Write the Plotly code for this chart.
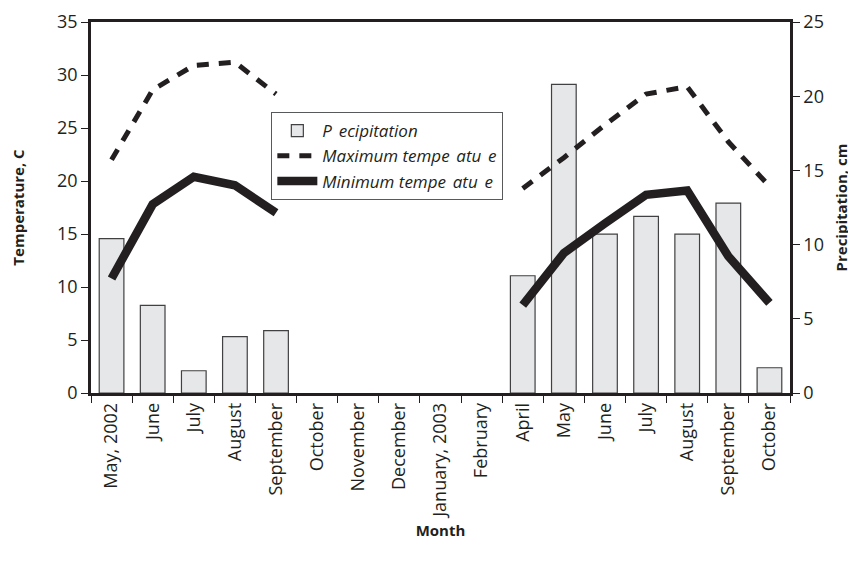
import plotly.graph_objects as go

months = ["May, 2002", "June", "July", "August", "September", "October",
          "November", "December", "January, 2003", "February", "April",
          "May", "June", "July", "August", "September", "October"]
precipitation = [10.4, 5.9, 1.5, 3.8, 4.2, None, None, None, None, None,
                 7.9, 20.8, 10.7, 11.9, 10.7, 12.8, 1.7]
max_temp = [22.0, 28.6, 30.9, 31.2, 28.2, None, None, None, None, None,
            19.3, 22.2, 25.3, 28.2, 28.9, 23.7, 19.5]
min_temp = [10.8, 17.8, 20.4, 19.6, 17.0, None, None, None, None, None,
            8.3, 13.2, 16.0, 18.7, 19.1, 12.9, 8.5]

# legend labels: the reference renders the letter "r" as a blank gap
R = "<span style='color:white'>r</span>"
series_names = ["P" + R + "ecipitation",
                "Maximum tempe" + R + "atu" + R + "e",
                "Minimum tempe" + R + "atu" + R + "e"]

x = list(range(len(months)))
FONT = "Open Sans"
INK = "#231f20"

fig = go.Figure()
# precipitation on the primary axis (drawn on the right) so temperature lines overlay it
fig.add_trace(go.Bar(
    x=x, y=precipitation, yaxis="y", name=series_names[0],
    width=0.6, marker=dict(color="#e6e7e8", line=dict(color="#414042", width=1.2)),
))
fig.add_trace(go.Scatter(
    x=x, y=max_temp, yaxis="y2", mode="lines", name=series_names[1],
    line=dict(color=INK, width=5, dash="12px,10px"), connectgaps=False,
))
fig.add_trace(go.Scatter(
    x=x, y=min_temp, yaxis="y2", mode="lines", name=series_names[2],
    line=dict(color=INK, width=8.5), connectgaps=False,
))

# the page body has an 8px default margin, so the figure is 8px smaller
fig.update_layout(
    width=848, height=559,
    margin=dict(l=83, r=66, t=14, b=174, autoexpand=False),
    paper_bgcolor="white", plot_bgcolor="white",
    font=dict(family=FONT, size=18, color=INK),
    showlegend=True,
    legend=dict(
        x=0.258, y=0.757, xanchor="left", yanchor="top",
        bgcolor="white", bordercolor="#58595b", borderwidth=1,
        font=dict(family=FONT, size=17, style="italic", color=INK),
        traceorder="normal", tracegroupgap=0, itemwidth=40,
    ),
    xaxis=dict(
        range=[-0.5, 16.5], tickmode="array", tickvals=x, ticktext=months,
        tickangle=-90, ticks="", showgrid=False, zeroline=False,
        showline=True, linecolor=INK, linewidth=2.5, mirror=True,
        minor=dict(tickmode="array", tickvals=[i - 0.5 for i in range(18)],
                   ticks="outside", ticklen=7, tickwidth=1.2, tickcolor=INK, showgrid=False),
        title=dict(text="<b>Month</b>", font=dict(size=15), standoff=8),
        automargin=False,
    ),
    yaxis2=dict(
        range=[0, 35], tickvals=[0, 5, 10, 15, 20, 25, 30, 35],
        overlaying="y", side="left",
        ticks="outside", ticklen=7, tickwidth=1.2, tickcolor=INK,
        showgrid=False, zeroline=False, showline=True, linecolor=INK, linewidth=2.5,
        title=dict(text="<b>Temperature, C</b>", font=dict(size=15), standoff=32),
        automargin=False,
    ),
    yaxis=dict(
        range=[0, 25], tickvals=[0, 5, 10, 15, 20, 25], side="right",
        ticks="outside", ticklen=7, tickwidth=1.2, tickcolor=INK,
        showgrid=False, zeroline=False, showline=True, linecolor=INK, linewidth=2.5,
        title=dict(text="<b>Precipitation, cm</b>", font=dict(size=15), standoff=14),
        automargin=False,
    ),
    bargap=0.4,
)

fig.write_html("out.html")
